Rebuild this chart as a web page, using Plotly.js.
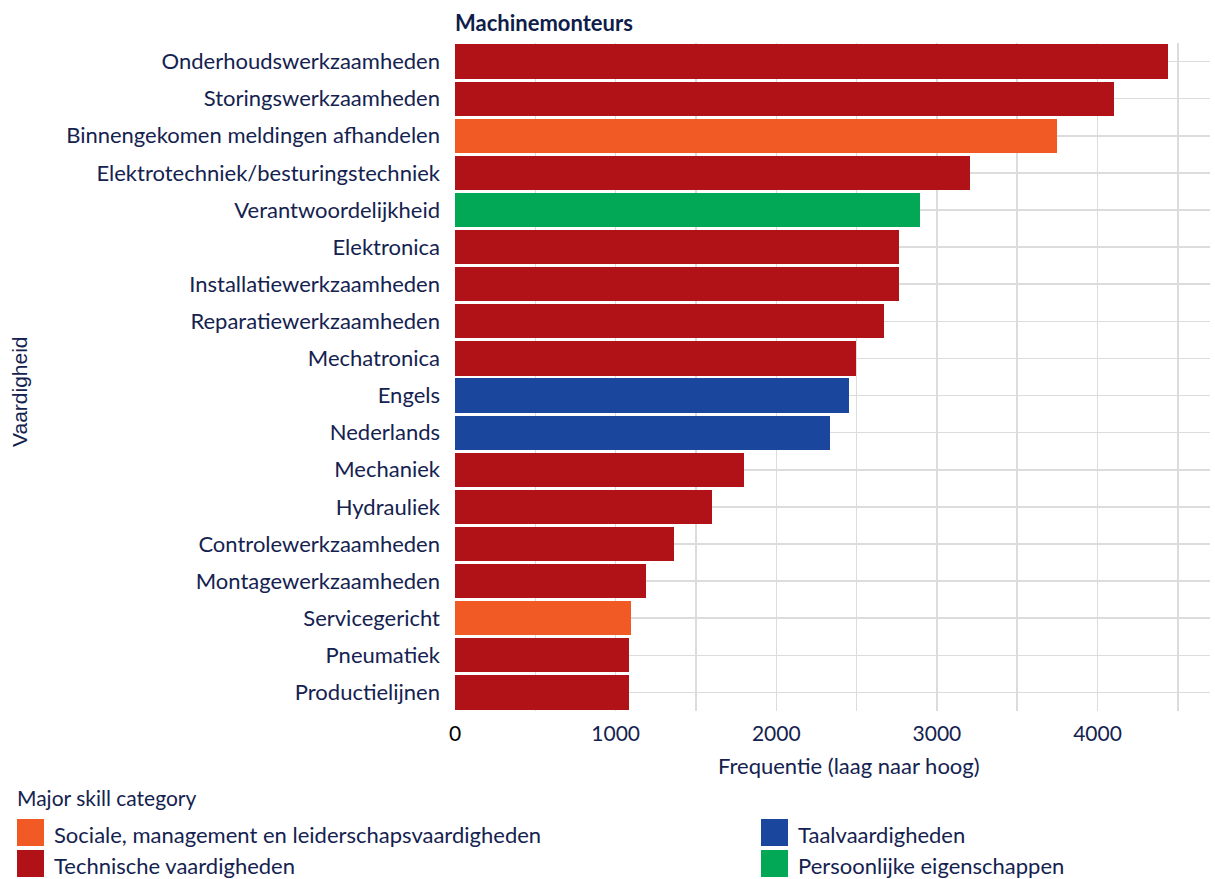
<!DOCTYPE html>
<html>
<head>
<meta charset="utf-8">
<script src="https://cdn.plot.ly/plotly-3.0.1.min.js"></script>
<style>
  html, body { margin: 0; padding: 0; background: #ffffff; }
  #chart { width: 1215px; height: 879px; }
</style>
</head>
<body>
<div id="chart"></div>
<script>
// Skills, top to bottom
const skills = [
  "Onderhoudswerkzaamheden",
  "Storingswerkzaamheden",
  "Binnengekomen meldingen afhandelen",
  "Elektrotechniek/besturingstechniek",
  "Verantwoordelijkheid",
  "Elektronica",
  "Installatiewerkzaamheden",
  "Reparatiewerkzaamheden",
  "Mechatronica",
  "Engels",
  "Nederlands",
  "Mechaniek",
  "Hydrauliek",
  "Controlewerkzaamheden",
  "Montagewerkzaamheden",
  "Servicegericht",
  "Pneumatiek",
  "Productielijnen"
];
const frequencies = [4440, 4100, 3750, 3207, 2895, 2765, 2765, 2671, 2497, 2453, 2335, 1800, 1600, 1364, 1189, 1096, 1083, 1083];
const skillCategory = [
  "Technische vaardigheden",
  "Technische vaardigheden",
  "Sociale, management en leiderschapsvaardigheden",
  "Technische vaardigheden",
  "Persoonlijke eigenschappen",
  "Technische vaardigheden",
  "Technische vaardigheden",
  "Technische vaardigheden",
  "Technische vaardigheden",
  "Taalvaardigheden",
  "Taalvaardigheden",
  "Technische vaardigheden",
  "Technische vaardigheden",
  "Technische vaardigheden",
  "Technische vaardigheden",
  "Sociale, management en leiderschapsvaardigheden",
  "Technische vaardigheden",
  "Technische vaardigheden"
];
// legend entries, in column order (two columns of two)
const legendOrder = [
  "Sociale, management en leiderschapsvaardigheden",
  "Technische vaardigheden",
  "Taalvaardigheden",
  "Persoonlijke eigenschappen"
];
const categoryColors = {
  "Sociale, management en leiderschapsvaardigheden": "#F15A24",
  "Taalvaardigheden": "#1A479D",
  "Technische vaardigheden": "#B01218",
  "Persoonlijke eigenschappen": "#02A855"
};
const legendTitle = "Major skill category";
const xTickVals = [0, 1000, 2000, 3000, 4000];
const xTickText = ['<span style="fill:#000000">0</span>', "1000", "2000", "3000", "4000"];

const navy = "#14224f";
const font = "Lato, Open Sans, sans-serif";

const W = 1215, H = 879;
const M = { l: 455, r: 5, t: 43, b: 168 };
const plotW = W - M.l - M.r;
const plotH = H - M.t - M.b;
// pixel -> paper helpers (for legend/annotations outside the plot area)
const px = v => (v - M.l) / plotW;
const py = v => (H - M.b - v) / plotH;

const traces = legendOrder.map(cat => {
  const ys = [], xs = [];
  skills.forEach((s, i) => {
    if (skillCategory[i] === cat) { ys.push(s); xs.push(frequencies[i]); }
  });
  return {
    type: "bar",
    orientation: "h",
    name: cat,
    y: ys,
    x: xs,
    marker: { color: categoryColors[cat], line: { width: 0 } },
    hoverinfo: "x+y",
    showlegend: false
  };
});

// custom two-column legend
const shapes = [];
const annotations = [];
const colX = [17, 761];
const rowTop = [819, 850];
const sw = 27;
legendOrder.forEach((cat, k) => {
  const col = Math.floor(k / 2), row = k % 2;
  const x0 = colX[col], y0 = rowTop[row];
  shapes.push({
    type: "rect", xref: "paper", yref: "paper",
    x0: px(x0), x1: px(x0 + sw), y0: py(y0), y1: py(y0 + sw),
    fillcolor: categoryColors[cat], line: { width: 0 }, layer: "above"
  });
  annotations.push({
    text: cat, xref: "paper", yref: "paper",
    x: px(x0 + sw + 8), y: py(y0 + sw / 2 + 2),
    xanchor: "left", yanchor: "middle", showarrow: false,
    font: { family: font, size: 22, color: navy }
  });
});
annotations.push({
  text: legendTitle, xref: "paper", yref: "paper",
  x: px(15), y: py(797), xanchor: "left", yanchor: "middle", showarrow: false,
  font: { family: font, size: 21, color: navy }
});
annotations.push({
  text: "Vaardigheid", textangle: -90, xref: "paper", yref: "paper",
  x: px(19), y: py(392), xanchor: "center", yanchor: "middle", showarrow: false,
  font: { family: "Liberation Sans, Arial, sans-serif", size: 21, color: navy }
});
annotations.push({
  text: "Frequentie (laag naar hoog)", xref: "paper", yref: "paper",
  x: px(849), y: py(765), xanchor: "center", yanchor: "middle", showarrow: false,
  font: { family: font, size: 22, color: navy }
});

const layout = {
  width: W,
  height: H,
  margin: M,
  paper_bgcolor: "#ffffff",
  plot_bgcolor: "#ffffff",
  barmode: "stack",
  bargap: 0.08,
  font: { family: font, color: navy, size: 20 },
  title: {
    text: "<b>Machinemonteurs</b>",
    font: { family: font, size: 22, color: "#0f1d4a" },
    xref: "paper", x: 0, xanchor: "left",
    yref: "container", y: 1 - 23 / H, yanchor: "middle"
  },
  xaxis: {
    range: [0, 4700],
    tickmode: "array",
    tickvals: xTickVals,
    ticktext: xTickText,
    showgrid: true,
    gridcolor: "#dcdcdc",
    gridwidth: 1.5,
    minor: { dtick: 500, tick0: 0, showgrid: true, gridcolor: "#dcdcdc", gridwidth: 1.5 },
    zeroline: false,
    showline: false,
    ticks: "",
    ticklabelstandoff: 8,
    tickfont: { family: font, size: 21, color: navy }
  },
  yaxis: {
    type: "category",
    categoryorder: "array",
    categoryarray: skills,
    autorange: "reversed",
    showgrid: true,
    gridcolor: "#dcdcdc",
    gridwidth: 1.5,
    zeroline: false,
    showline: false,
    ticks: "",
    ticklabelstandoff: 14,
    tickfont: { family: font, size: 22, color: navy }
  },
  shapes: shapes,
  annotations: annotations,
  showlegend: false
};

Plotly.newPlot("chart", traces, layout, { displayModeBar: false, staticPlot: true });
</script>
</body>
</html>
